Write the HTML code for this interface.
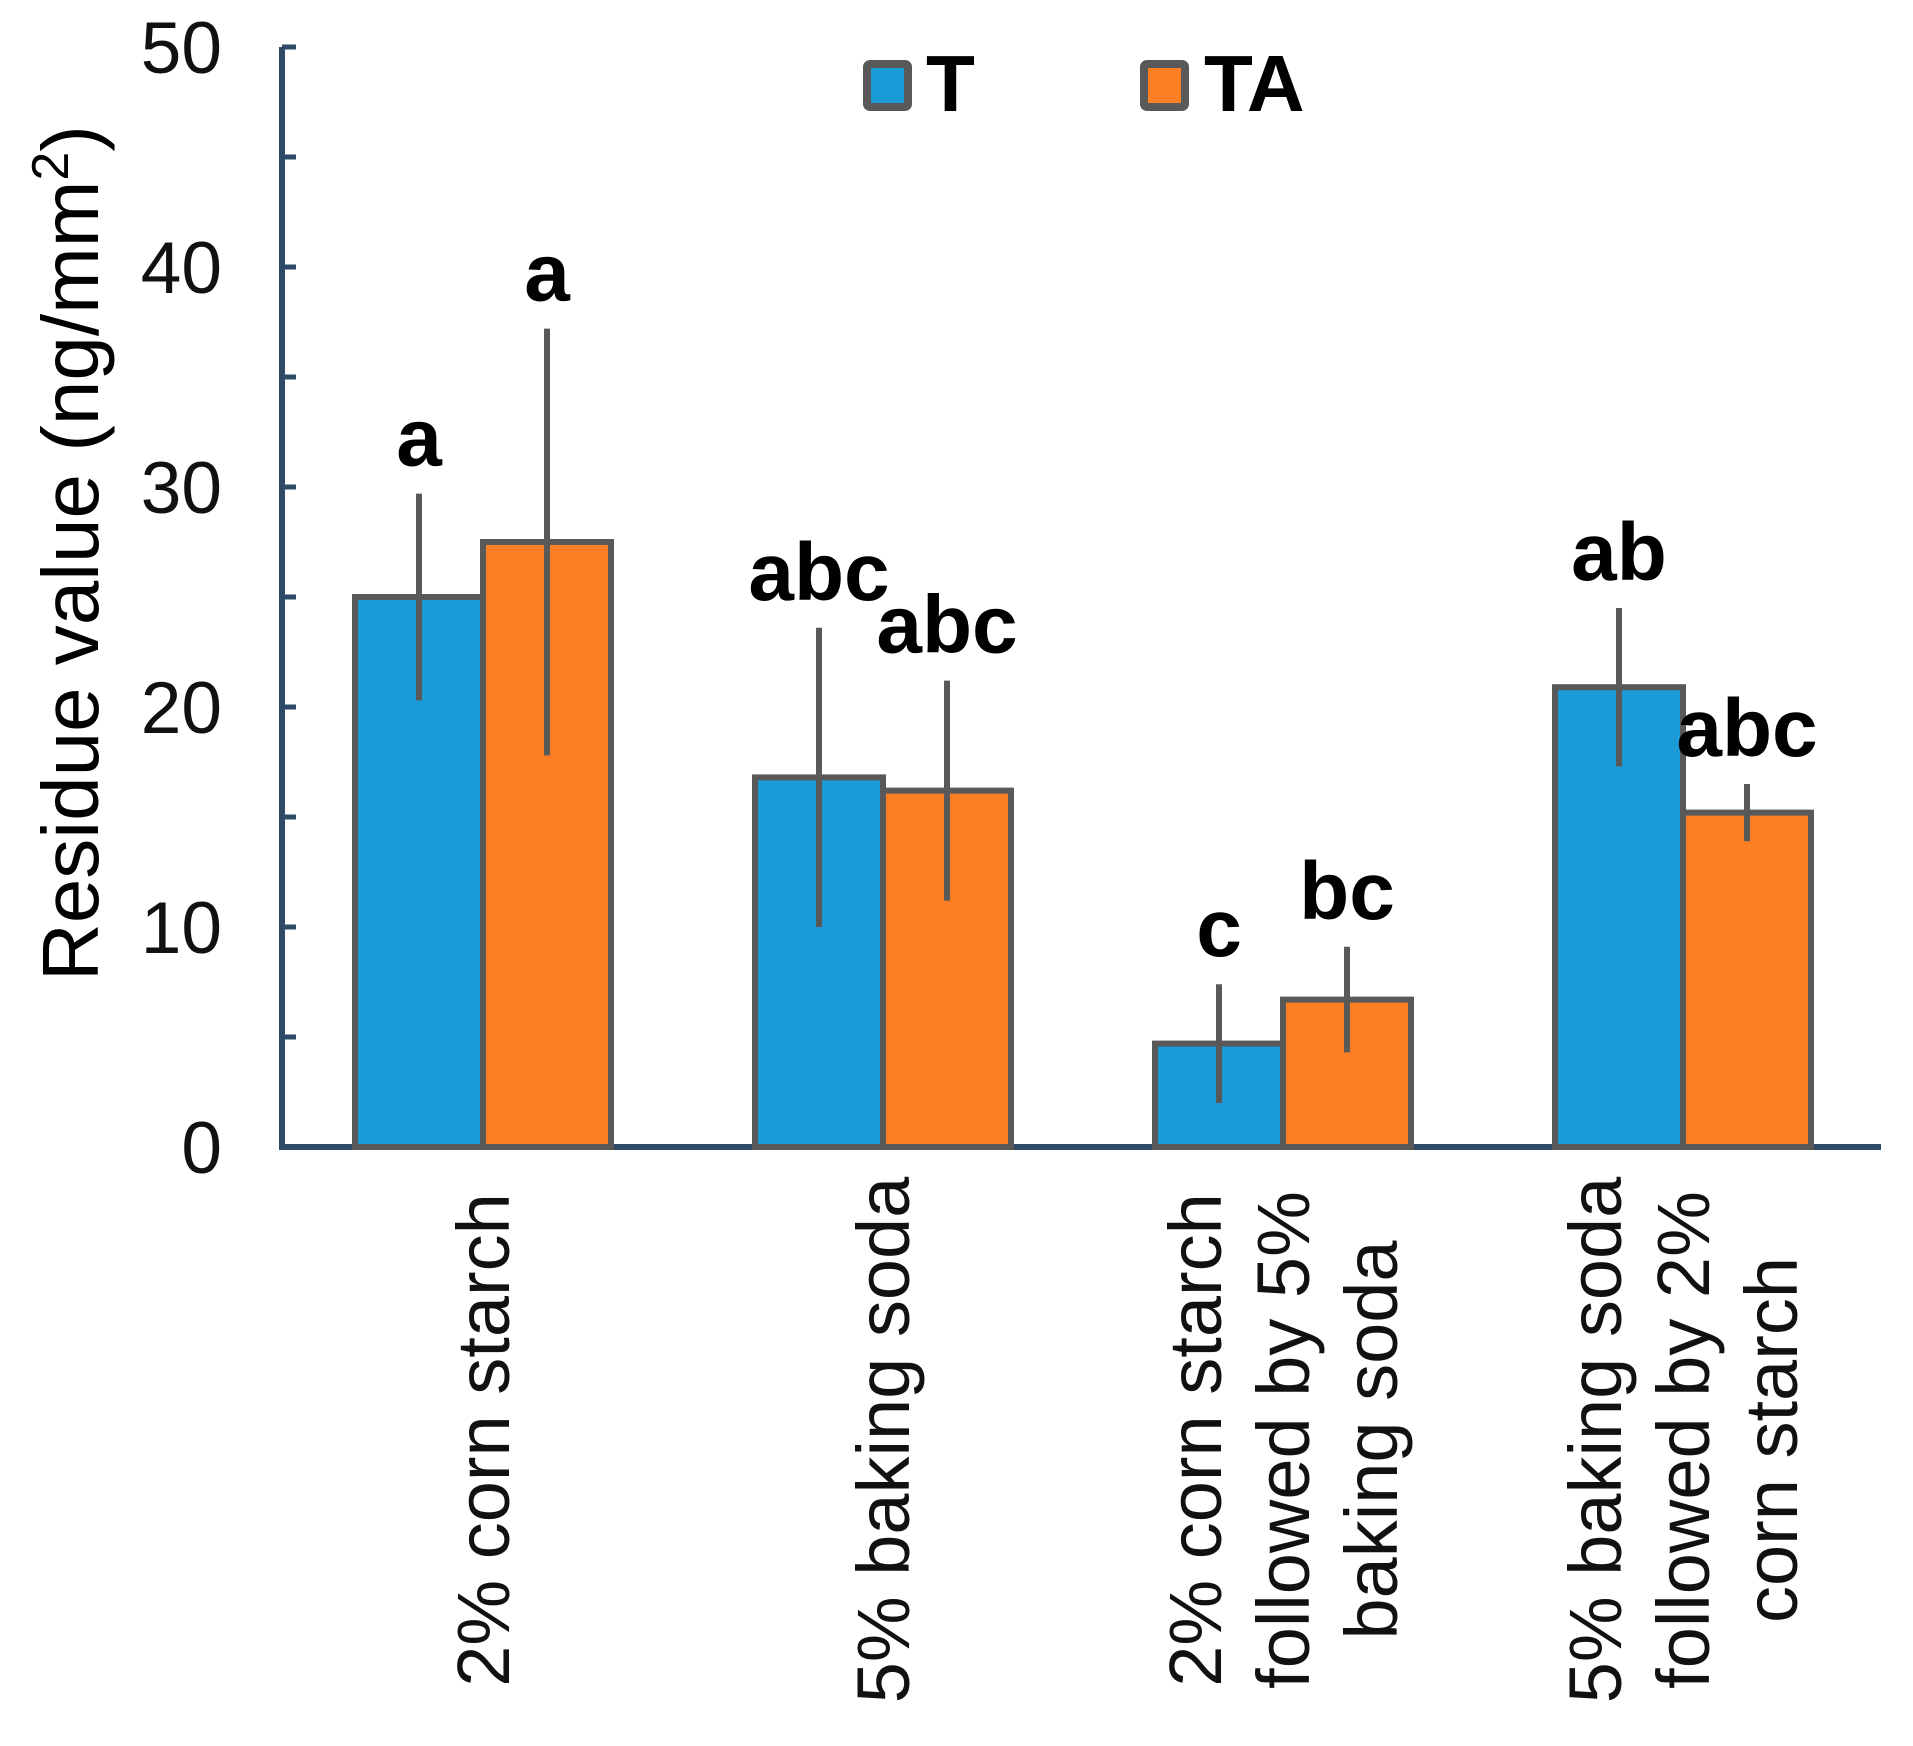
<!DOCTYPE html>
<html><head><meta charset="utf-8"><style>
html,body{margin:0;padding:0;background:#fff;}
svg{display:block;font-family:"Liberation Sans",Arial,sans-serif;}
</style></head><body>
<svg id="chart" width="1913" height="1746" viewBox="0 0 1913 1746" xmlns="http://www.w3.org/2000/svg">
<g id="axes"></g><g id="bars"></g><g id="labels"></g>
<g>
  <g>
    <rect x="867" y="64" width="41" height="43" fill="#1a9ad6" stroke="#595959" stroke-width="8" rx="3"/>
    <text x="926" y="111" font-size="80" font-weight="bold">T</text>
  </g>
  <g>
    <rect x="1144" y="64" width="41" height="43" fill="#fd7f23" stroke="#595959" stroke-width="8" rx="3"/>
    <text x="1204" y="111" font-size="80" font-weight="bold">TA</text>
  </g>
</g>
<text transform="translate(98,553) rotate(-90)" text-anchor="middle" font-size="80">Residue value (ng/mm<tspan font-size="52" dy="-30">2</tspan><tspan dy="30">)</tspan></text>
</svg>
<script>
const categories = [["2% corn starch"],["5% baking soda"],["2% corn starch","followed by 5%","baking soda"],["5% baking soda","followed by 2%","corn starch"]];
const seriesT = [25, 16.8, 4.7, 20.9];
const seriesTA = [27.5, 16.2, 6.7, 15.2];
const errT = [4.7, 6.8, 2.7, 3.6];
const errTA = [9.7, 5.0, 2.4, 1.3];
const lettersT = ["a","abc","c","ab"];
const lettersTA = ["a","abc","bc","abc"];
const yTicks = [0,10,20,30,40,50];

const NS="http://www.w3.org/2000/svg";
const x0=282, yBase=1147, pxPerUnit=22, groupW=400, firstLeft=355, barW=128;
const y = v => yBase - v*pxPerUnit;
const gx = i => firstLeft + i*groupW;
function mk(tag, attrs, parent){const e=document.createElementNS(NS,tag);for(const k in attrs)e.setAttribute(k,attrs[k]);parent.appendChild(e);return e;}
const axes=document.getElementById('axes'), bars=document.getElementById('bars'), labels=document.getElementById('labels');

for(let v=0; v<=50; v+=5){
  const t=mk('line',{x1:x0,x2:x0+14,y1:y(v),y2:y(v),stroke:'#2e4a66','stroke-width':5},axes);
  
  
}
yTicks.forEach(v=>{
  const t=mk('text',{x:222,y:y(v)+26,'text-anchor':'end','font-size':73,fill:'#111'},axes);
  t.textContent=v;
  
  
});
const ya=mk('line',{x1:x0,x2:x0,y1:y(50),y2:yBase+3,stroke:'#2e4a66','stroke-width':6},axes);


const xa=mk('line',{x1:x0-3,x2:1881,y1:yBase,y2:yBase,stroke:'#2e4a66','stroke-width':6},axes);



function drawBar(i, val, err, letter, off, color, name){
  const left=gx(i)+off;
  const r=mk('rect',{x:left,y:y(val),width:barW,height:yBase-y(val),fill:color,stroke:'#595959','stroke-width':6},bars);
  
  
  const cx=left+barW/2;
  const e=mk('line',{x1:cx,x2:cx,y1:y(val+err),y2:y(val-err),stroke:'#595959','stroke-width':6},bars);
  
  
  const t=mk('text',{x:cx,y:y(val+err)-28,'text-anchor':'middle','font-size':82,'font-weight':'bold'},labels);
  t.textContent=letter;
  
  
}
categories.forEach((c,i)=>{
  drawBar(i, seriesT[i], errT[i], lettersT[i], 0, '#1a9ad6', 't');
  drawBar(i, seriesTA[i], errTA[i], lettersTA[i], barW, '#fd7f23', 'ta');
  const center=gx(i)+barW;
  const n=c.length;
  c.forEach((line,j)=>{
    const lx=center+(j-(n-1)/2)*88+26;
    const t=mk('text',{transform:`translate(${lx},1440) rotate(-90)`,'text-anchor':'middle','font-size':74,fill:'#111'},labels);
    t.textContent=line;
    
    
  });
});
</script>
</body></html>
